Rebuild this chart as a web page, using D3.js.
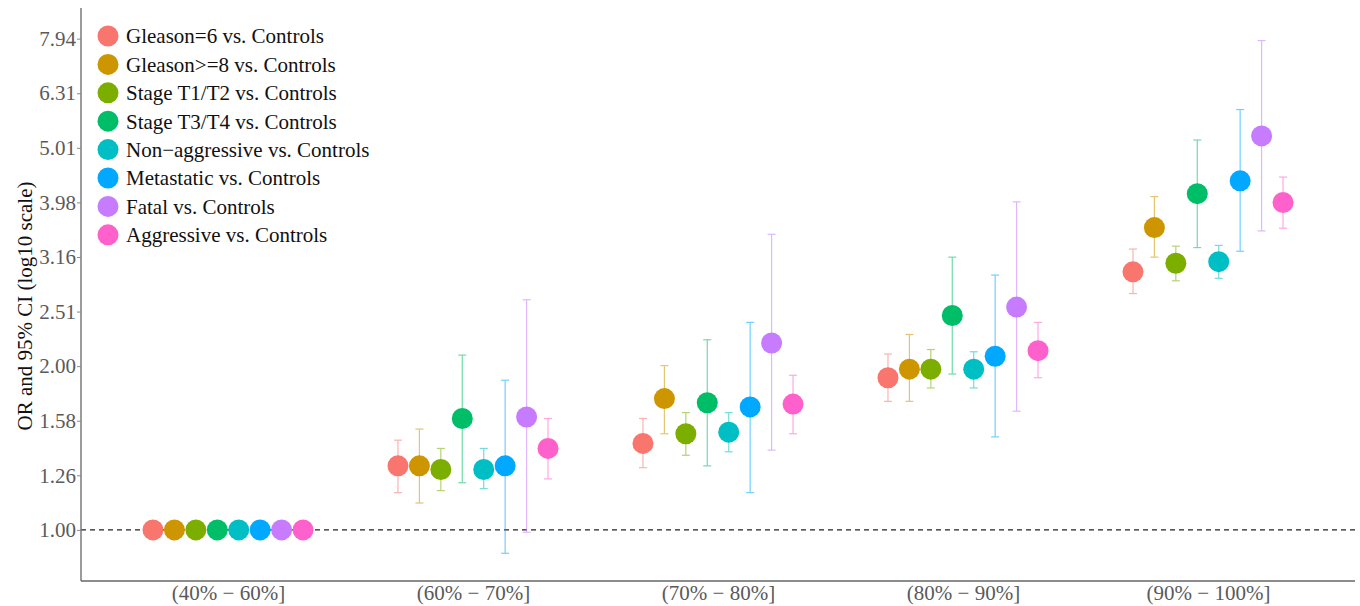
<!DOCTYPE html>
<html>
<head>
<meta charset="utf-8">
<script src="https://cdn.jsdelivr.net/npm/d3@7"></script>
<style>
  body { margin: 0; background: #fff; }
  svg { display: block; }
  text { font-family: "Liberation Serif", "DejaVu Serif", serif; }
</style>
</head>
<body>
<svg id="chart" width="1360" height="606"></svg>
<script>
// ----------- DATA -----------
const categories = ["(40% − 60%]", "(60% − 70%]", "(70% − 80%]", "(80% − 90%]", "(90% − 100%]"];

const series = [
  "Gleason=6 vs. Controls",
  "Gleason>=8 vs. Controls",
  "Stage T1/T2 vs. Controls",
  "Stage T3/T4 vs. Controls",
  "Non−aggressive vs. Controls",
  "Metastatic vs. Controls",
  "Fatal vs. Controls",
  "Aggressive vs. Controls"
];

const colors = ["#F8766D", "#CD9600", "#7CAE00", "#00BE67", "#00BFC4", "#00A9FF", "#C77CFF", "#FF61CC"];

// odds ratios, one row per series, one value per category
const orValues = [
  [1.00, 1.31, 1.44, 1.90, 2.97],
  [1.00, 1.31, 1.74, 1.97, 3.58],
  [1.00, 1.29, 1.50, 1.97, 3.08],
  [1.00, 1.60, 1.71, 2.47, 4.13],
  [1.00, 1.29, 1.51, 1.97, 3.10],
  [1.00, 1.31, 1.68, 2.08, 4.36],
  [1.00, 1.61, 2.20, 2.56, 5.27],
  [1.00, 1.41, 1.70, 2.13, 3.98]
];

const lowerCI = [
  [1.00, 1.17, 1.30, 1.72, 2.71],
  [1.00, 1.12, 1.50, 1.72, 3.16],
  [1.00, 1.18, 1.37, 1.82, 2.86],
  [1.00, 1.22, 1.31, 1.93, 3.29],
  [1.00, 1.19, 1.39, 1.82, 2.89],
  [1.00, 0.906, 1.17, 1.48, 3.24],
  [1.00, 0.99, 1.40, 1.65, 3.53],
  [1.00, 1.24, 1.50, 1.90, 3.57]
];

const upperCI = [
  [1.00, 1.46, 1.60, 2.10, 3.27],
  [1.00, 1.53, 2.00, 2.28, 4.08],
  [1.00, 1.41, 1.64, 2.14, 3.31],
  [1.00, 2.09, 2.23, 3.16, 5.18],
  [1.00, 1.41, 1.64, 2.12, 3.32],
  [1.00, 1.88, 2.40, 2.93, 5.89],
  [1.00, 2.64, 3.48, 3.99, 7.88],
  [1.00, 1.60, 1.92, 2.40, 4.43]
];

const tickValues = [1.00, 1.2589, 1.5849, 1.9953, 2.5119, 3.1623, 3.9811, 5.0119, 6.3096, 7.9433];
const tickLabels = ["1.00", "1.26", "1.58", "2.00", "2.51", "3.16", "3.98", "5.01", "6.31", "7.94"];

// ----------- LAYOUT -----------
const svg = d3.select("#chart");
const mLeft = 81, mRight = 1355, mTop = 8, mBottom = 581;

const x = d3.scalePoint().domain(categories).range([mLeft, mRight]).padding(0.6);
const dodgeWidth = x.step() * 0.7;
const dodge = d3.scaleBand().domain(series).range([-dodgeWidth / 2, dodgeWidth / 2]);
const y = d3.scaleLog().domain([0.806, 9.04]).range([mBottom, mTop]);

const points = [];
series.forEach((s, i) => {
  categories.forEach((c, j) => {
    points.push({
      s, c, color: colors[i],
      or: orValues[i][j], lo: lowerCI[i][j], hi: upperCI[i][j]
    });
  });
});
const px = d => x(d.c) + dodge(d.s) + dodge.bandwidth() / 2;

// reference line
svg.append("line")
  .attr("x1", mLeft).attr("x2", mRight)
  .attr("y1", y(1)).attr("y2", y(1))
  .attr("stroke", "#222").attr("stroke-width", 1.1)
  .attr("stroke-dasharray", "5,4");

// error bars
const eb = svg.append("g").attr("opacity", 0.55);
eb.selectAll("line.v").data(points).enter().append("line")
  .attr("x1", px).attr("x2", px)
  .attr("y1", d => y(d.lo)).attr("y2", d => y(d.hi))
  .attr("stroke", d => d.color).attr("stroke-width", 1.2);
["lo", "hi"].forEach(k => {
  eb.selectAll("line.cap-" + k).data(points).enter().append("line")
    .attr("x1", d => px(d) - 4).attr("x2", d => px(d) + 4)
    .attr("y1", d => y(d[k])).attr("y2", d => y(d[k]))
    .attr("stroke", d => d.color).attr("stroke-width", 1.2);
});

// points
svg.append("g").selectAll("circle").data(points).enter().append("circle")
  .attr("cx", px).attr("cy", d => y(d.or))
  .attr("r", 10.5)
  .attr("fill", d => d.color);

// axes
const yAxis = svg.append("g").attr("transform", `translate(${mLeft},0)`)
  .call(d3.axisLeft(y).tickValues(tickValues).tickFormat((d, i) => tickLabels[i]).tickSize(4).tickPadding(1));
yAxis.select(".domain").attr("d", `M0,${mTop}V${mBottom}`);
const xAxis = svg.append("g").attr("transform", `translate(0,${mBottom})`)
  .call(d3.axisBottom(x).tickSize(0).tickPadding(4));
xAxis.select(".domain").attr("d", `M${mLeft},0H${mRight}`);

[yAxis, xAxis].forEach(a => {
  a.select(".domain").attr("stroke", "#666").attr("stroke-width", 1.3);
  a.selectAll(".tick line").attr("stroke", "#888");
  a.selectAll(".tick text")
    .attr("fill", "#5a5a5a")
    .style("font-family", '"Liberation Serif", serif')
    .style("font-size", "21px");
});

svg.append("text")
  .attr("transform", `translate(25,306) rotate(-90)`)
  .attr("text-anchor", "middle")
  .attr("dy", "0.35em")
  .style("font-size", "21px")
  .attr("fill", "#111")
  .text("OR and 95% CI (log10 scale)");

// legend
const legend = svg.append("g").attr("transform", "translate(108,36)");
const items = legend.selectAll("g").data(series).enter().append("g")
  .attr("transform", (d, i) => `translate(0,${i * 28.4})`);
items.append("circle").attr("r", 10.5).attr("fill", (d, i) => colors[i]);
items.append("text")
  .attr("x", 18).attr("dy", "0.35em")
  .style("font-size", "21px")
  .attr("fill", "#111")
  .text(d => d);
</script>
</body>
</html>
